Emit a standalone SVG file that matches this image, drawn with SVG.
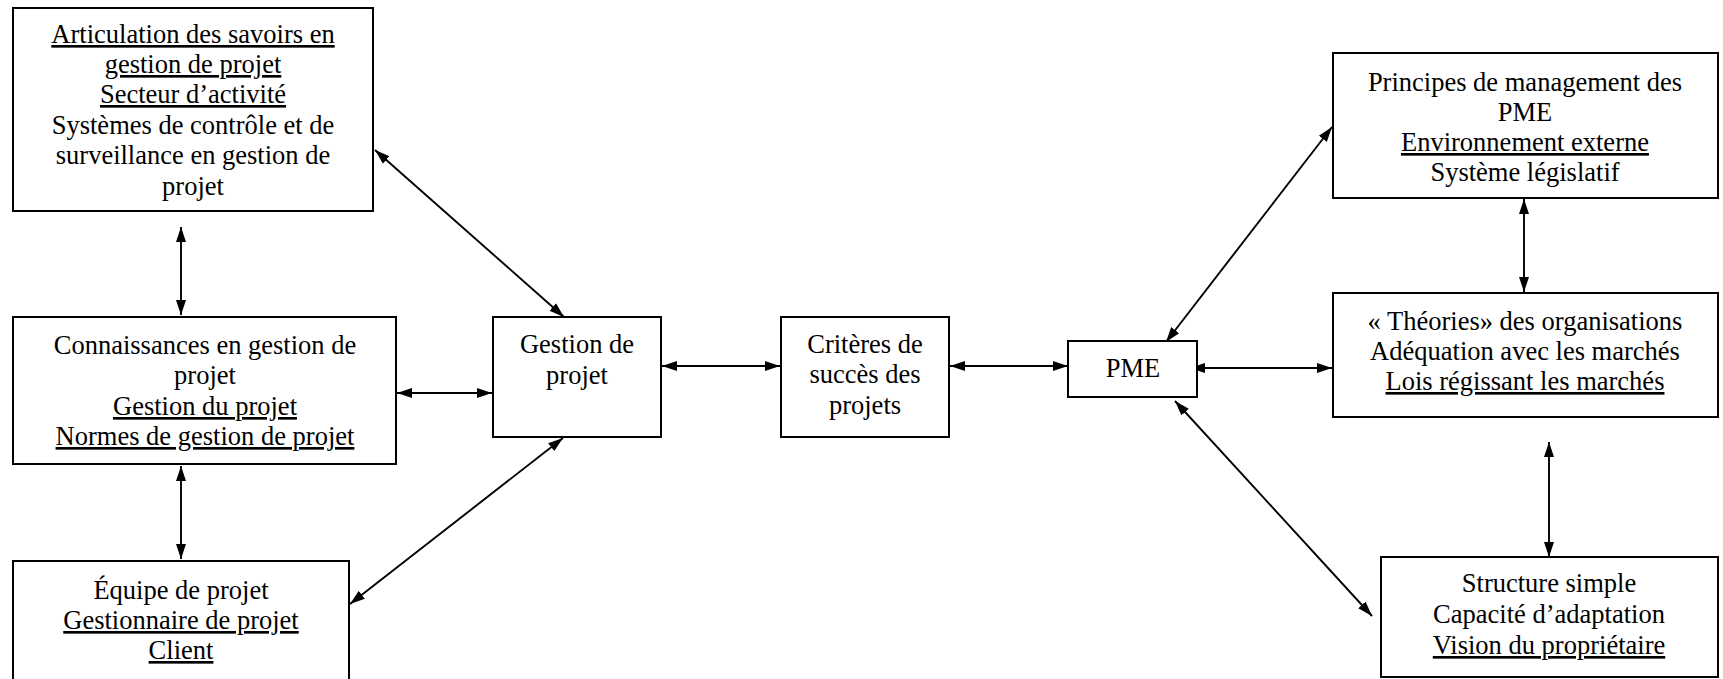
<svg xmlns="http://www.w3.org/2000/svg" width="1723" height="679" viewBox="0 0 1723 679">
<style>
.box{fill:#fff;stroke:#000;stroke-width:2}
.t{font-family:"Liberation Serif","Times New Roman",Times,"DejaVu Serif",serif;font-size:26.5px;fill:#000;text-anchor:middle}
.u{text-decoration:underline}
.c{stroke:#000;stroke-width:1.9;fill:none;marker-start:url(#ah);marker-end:url(#ah)}
</style>
<defs>
<marker id="ah" markerUnits="userSpaceOnUse" markerWidth="16" markerHeight="11" refX="15" refY="5.5" orient="auto-start-reverse" viewBox="0 0 16 11">
<path d="M0,0.5 L15,5.5 L0,10.5 z" fill="#000"/>
</marker>
</defs>
<rect width="1723" height="679" fill="#fff"/>
<g id="connectors">
<line class="c" x1="181" y1="227" x2="181" y2="315"/>
<line class="c" x1="181" y1="466" x2="181" y2="559"/>
<line class="c" x1="397" y1="393" x2="492" y2="393"/>
<line class="c" x1="375" y1="150" x2="564" y2="317"/>
<line class="c" x1="350" y1="604" x2="563" y2="438"/>
<line class="c" x1="662" y1="366" x2="780" y2="366"/>
<line class="c" x1="950" y1="366" x2="1068" y2="366"/>
<line class="c" x1="1166" y1="342" x2="1332" y2="127"/>
<line class="c" x1="1190" y1="368" x2="1332" y2="368"/>
<line class="c" x1="1175" y1="401" x2="1372" y2="616"/>
<line class="c" x1="1524" y1="199" x2="1524" y2="292"/>
<line class="c" x1="1549" y1="442" x2="1549" y2="557"/>
</g>
<g id="n-articulation">
<rect class="box" x="13" y="8" width="360" height="203"/>
<text class="t"><tspan class="u" x="193" y="43">Articulation des savoirs en</tspan><tspan class="u" x="193" y="73">gestion de projet</tspan><tspan class="u" x="193" y="103">Secteur d’activité</tspan><tspan x="193" y="134">Systèmes de contrôle et de</tspan><tspan x="193" y="164">surveillance en gestion de</tspan><tspan x="193" y="195">projet</tspan></text>
</g>
<g id="n-connaissances">
<rect class="box" x="13" y="317" width="383" height="147"/>
<text class="t"><tspan x="205" y="354">Connaissances en gestion de</tspan><tspan x="205" y="384">projet</tspan><tspan class="u" x="205" y="415">Gestion du projet</tspan><tspan class="u" x="205" y="445">Normes de gestion de projet</tspan></text>
</g>
<g id="n-equipe">
<rect class="box" x="13" y="561" width="336" height="130"/>
<text class="t"><tspan x="181" y="599">Équipe de projet</tspan><tspan class="u" x="181" y="629">Gestionnaire de projet</tspan><tspan class="u" x="181" y="659">Client</tspan></text>
</g>
<g id="n-gestion">
<rect class="box" x="493" y="317" width="168" height="120"/>
<text class="t"><tspan x="577" y="353">Gestion de</tspan><tspan x="577" y="384">projet</tspan></text>
</g>
<g id="n-criteres">
<rect class="box" x="781" y="317" width="168" height="120"/>
<text class="t"><tspan x="865" y="353">Critères de</tspan><tspan x="865" y="383">succès des</tspan><tspan x="865" y="414">projets</tspan></text>
</g>
<g id="n-pme">
<rect class="box" x="1068" y="341" width="129" height="56"/>
<text class="t" x="1133" y="377">PME</text>
</g>
<g id="n-principes">
<rect class="box" x="1333" y="53" width="385" height="145"/>
<text class="t"><tspan x="1525" y="91">Principes de management des</tspan><tspan x="1525" y="121">PME</tspan><tspan class="u" x="1525" y="151">Environnement externe</tspan><tspan x="1525" y="181">Système législatif</tspan></text>
</g>
<g id="n-theories">
<rect class="box" x="1333" y="293" width="385" height="124"/>
<text class="t"><tspan x="1525" y="330">« Théories» des organisations</tspan><tspan x="1525" y="360">Adéquation avec les marchés</tspan><tspan class="u" x="1525" y="390">Lois régissant les marchés</tspan></text>
</g>
<g id="n-structure">
<rect class="box" x="1381" y="557" width="337" height="120"/>
<text class="t"><tspan x="1549" y="592">Structure simple</tspan><tspan x="1549" y="623">Capacité d’adaptation</tspan><tspan class="u" x="1549" y="654">Vision du propriétaire</tspan></text>
</g>
</svg>
